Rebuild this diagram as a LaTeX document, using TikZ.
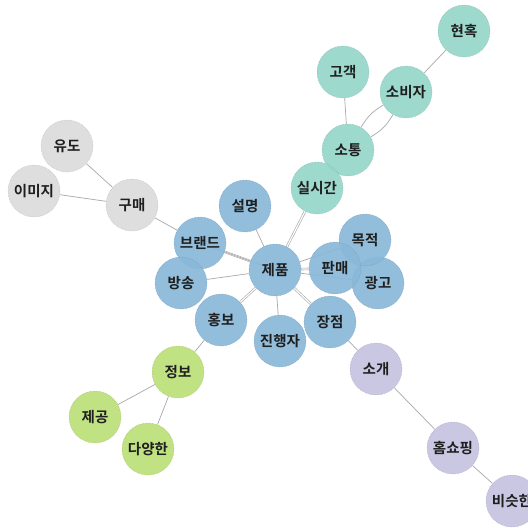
\documentclass[tikz,border=0pt]{standalone}
\usepackage{fontspec}
\newfontfamily\kr{Noto Sans CJK KR Bold}
\usetikzlibrary{backgrounds}
\definecolor{cblue}{HTML}{8AB8D9}
\definecolor{cteal}{HTML}{97D7CA}
\definecolor{cgrey}{HTML}{DCDCDC}
\definecolor{cgreen}{HTML}{BCE07A}
\definecolor{cpurp}{HTML}{C6C3E1}
\definecolor{cedge}{HTML}{A8A8A8}
\tikzset{
  nd/.style={circle, minimum size=52pt, inner sep=0pt, fill=#1, fill opacity=0.93, text opacity=1,
    draw=#1!85!black, densely dotted, line width=0.5pt, font=\kr\fontsize{14.5}{15}\selectfont, text=black!88},
  ed/.style={draw=cedge, line width=0.7pt},
  ed2/.style={draw=cedge, line width=0.6pt, double=white, double distance=1.2pt},
}
\begin{document}
\begin{tikzpicture}[x=1pt,y=-1pt]
\useasboundingbox (0,0) rectangle (528,528);
% nodes
\node[nd=cteal] (hh) at (464,31) {현혹};
\node[nd=cteal] (gg) at (343,72) {고객};
\node[nd=cteal] (sbj) at (406,92) {소비자};
\node[nd=cteal] (st) at (348,150) {소통};
\node[nd=cteal] (ssg) at (317,188) {실시간};
\node[nd=cgrey] (yd) at (67,146) {유도};
\node[nd=cgrey] (imj) at (34,191) {이미지};
\node[nd=cgrey] (gm) at (132,205) {구매};
\node[nd=cblue] (sm) at (245,206) {설명};
\node[nd=cblue] (br) at (200,243) {브랜드};
\node[nd=cblue] (bs) at (181,283) {방송};
\node[nd=cblue] (hb) at (221,320) {홍보};
\node[nd=cblue] (jhj) at (280,341) {진행자};
\node[nd=cblue] (jj) at (330,322) {장점};
\node[nd=cblue] (gk) at (378,283) {광고};
\node[nd=cblue] (mj) at (365,240) {목적};
\node[nd=cblue] (pm) at (335,268) {판매};
\node[nd=cblue] (jp) at (275,270) {제품};
\node[nd=cpurp] (sg) at (376,369) {소개};
\node[nd=cpurp] (hsp) at (453,448) {홈쇼핑};
\node[nd=cpurp] (bsh) at (512,501) {비슷한};
\node[nd=cgreen] (jb) at (178,372) {정보};
\node[nd=cgreen] (jg) at (95,417) {제공};
\node[nd=cgreen] (dyh) at (148,449) {다양한};
% edges
\begin{scope}[on background layer]
\fill[white] (0,0) rectangle (528,528);
\draw[ed] (hh) -- (sbj);
\draw[ed] (gg) -- (st);
\draw[ed] (sbj) to[bend left=15] (st);
\draw[ed] (sbj) to[bend right=15] (st);
\draw[ed] (st) -- (ssg);
\draw[ed2] (ssg) -- (jp);
\draw[ed] (yd) -- (gm);
\draw[ed] (imj) -- (gm);
\draw[ed] (gm) -- (br);
\draw[ed2] (br) -- (jp);
\draw[ed] (br.center) -- (jp.center);
\draw[ed] (sm) -- (jp);
\draw[ed] (bs) -- (jp);
\draw[ed2] (hb) -- (jp);
\draw[ed] (jhj) -- (jp);
\draw[ed2] (jj) -- (jp);
\draw[ed2] (pm) -- (jp);
\draw[ed] (mj) -- (jp);
\draw[ed] (gk) -- (jp);
\draw[ed] (jj) -- (sg);
\draw[ed] (sg) -- (hsp);
\draw[ed] (hsp) -- (bsh);
\draw[ed] (hb) -- (jb);
\draw[ed] (jb) -- (jg);
\draw[ed] (jb) -- (dyh);
\end{scope}
\end{tikzpicture}
\end{document}
